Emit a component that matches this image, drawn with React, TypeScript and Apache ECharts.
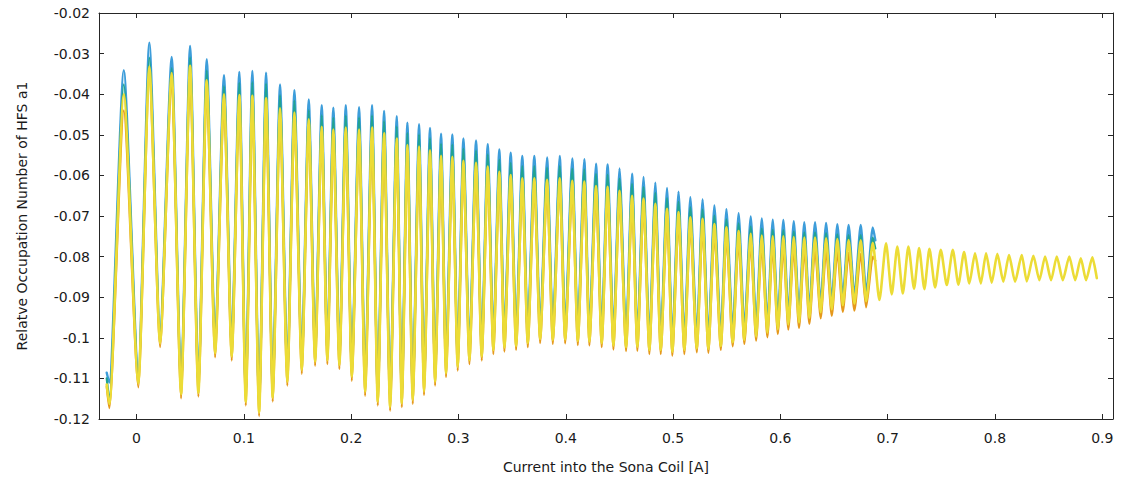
import React, { useEffect, useRef } from "react";
import * as echarts from "echarts";

// x positions of the oscillation extrema (A)
const troughX = [
  -0.0253, 0.0017, 0.0219, 0.0415, 0.0576, 0.0732, 0.0887, 0.1018, 0.1142, 0.1269,
  0.1405, 0.154, 0.1664, 0.1778, 0.189, 0.2006, 0.213, 0.2248, 0.2363, 0.2472,
  0.2574, 0.2679, 0.2782, 0.2884, 0.2993, 0.3102, 0.3217, 0.3325, 0.3428, 0.3537,
  0.3646, 0.3761, 0.3879, 0.3994, 0.4112, 0.422, 0.4335, 0.4444, 0.4562, 0.4667,
  0.4779, 0.4885, 0.4993, 0.5105, 0.5221, 0.5329, 0.5445, 0.5556, 0.5664, 0.5774,
  0.5879, 0.5976, 0.6074, 0.6174, 0.627, 0.6376, 0.6479, 0.6582, 0.669, 0.6799,
];
const peakX = [
  -0.0119, 0.0119, 0.0328, 0.0499, 0.0654, 0.0815, 0.0958, 0.1079, 0.1207, 0.1337,
  0.1471, 0.1605, 0.1726, 0.1834, 0.195, 0.2074, 0.2195, 0.2307, 0.2425, 0.2524,
  0.2633, 0.2735, 0.2838, 0.2943, 0.3046, 0.3164, 0.3273, 0.3381, 0.3487, 0.3595,
  0.3707, 0.3826, 0.3944, 0.4061, 0.4173, 0.4282, 0.439, 0.4501, 0.4618, 0.4725,
  0.4835, 0.4944, 0.5051, 0.5161, 0.5275, 0.5385, 0.5497, 0.5611, 0.5724, 0.5827,
  0.5929, 0.6028, 0.6125, 0.6223, 0.6323, 0.6426, 0.6531, 0.6636, 0.6749, 0.6861,
];
const startX = -0.0278;
const endX = 0.6885;

// blue trace
const bluePeaks = [
  -0.0341, -0.0273, -0.0308, -0.0281, -0.0314, -0.0353, -0.0345, -0.0343, -0.0347, -0.0376,
  -0.039, -0.0413, -0.0427, -0.0433, -0.0427, -0.0432, -0.0427, -0.0441, -0.0454, -0.047,
  -0.0474, -0.0483, -0.0497, -0.0499, -0.0509, -0.0514, -0.0523, -0.0536, -0.0544, -0.0552,
  -0.0552, -0.0556, -0.0552, -0.0558, -0.056, -0.0571, -0.0573, -0.0583, -0.0596, -0.0604,
  -0.0618, -0.0631, -0.064, -0.0654, -0.0659, -0.0674, -0.0683, -0.0693, -0.0701, -0.0706,
  -0.0709, -0.071, -0.0713, -0.0715, -0.0715, -0.0717, -0.072, -0.0722, -0.0722, -0.0728,
];
const blueTroughs = [
  -0.111, -0.1087, -0.0988, -0.1114, -0.111, -0.1013, -0.1021, -0.1132, -0.1158, -0.1122,
  -0.1083, -0.1054, -0.1034, -0.103, -0.1042, -0.1071, -0.1108, -0.1132, -0.1145, -0.1136,
  -0.1128, -0.1106, -0.1083, -0.1062, -0.1046, -0.103, -0.1021, -0.1005, -0.0999, -0.0995,
  -0.0988, -0.0978, -0.098, -0.0979, -0.0983, -0.0984, -0.0988, -0.0994, -0.0998, -0.0997,
  -0.1005, -0.1005, -0.1009, -0.1005, -0.1001, -0.1002, -0.0995, -0.0986, -0.098, -0.0972,
  -0.0964, -0.0956, -0.0945, -0.0941, -0.0931, -0.0917, -0.0911, -0.0901, -0.0898, -0.089,
];
const blueEnds = [-0.1086, -0.076];

// teal trace
const tealPeaks = [
  -0.0376, -0.031, -0.0336, -0.0309, -0.0341, -0.038, -0.0372, -0.037, -0.0374, -0.0402,
  -0.0416, -0.0439, -0.0452, -0.0458, -0.0453, -0.0457, -0.0452, -0.0466, -0.0479, -0.0495,
  -0.0499, -0.0508, -0.0522, -0.0524, -0.0534, -0.0539, -0.0548, -0.0561, -0.0569, -0.0577,
  -0.0577, -0.0581, -0.0577, -0.0583, -0.0585, -0.0596, -0.0598, -0.0608, -0.0621, -0.0629,
  -0.0643, -0.0656, -0.0665, -0.0679, -0.0684, -0.0699, -0.0708, -0.0718, -0.0726, -0.0731,
  -0.0734, -0.0735, -0.0738, -0.074, -0.074, -0.0742, -0.0745, -0.0747, -0.0747, -0.0753,
];
const tealTroughs = [
  -0.1151, -0.11, -0.1001, -0.1127, -0.1123, -0.1026, -0.1034, -0.1145, -0.1171, -0.1135,
  -0.1096, -0.1067, -0.1047, -0.1043, -0.1055, -0.1084, -0.1121, -0.1145, -0.1158, -0.1149,
  -0.1141, -0.1119, -0.1096, -0.1075, -0.1059, -0.1043, -0.1034, -0.1018, -0.1012, -0.1008,
  -0.1001, -0.0991, -0.0993, -0.0992, -0.0996, -0.0997, -0.1001, -0.1007, -0.1011, -0.101,
  -0.1018, -0.1018, -0.1022, -0.1018, -0.1014, -0.1015, -0.1008, -0.0999, -0.0993, -0.0985,
  -0.0977, -0.0969, -0.0958, -0.0954, -0.0944, -0.093, -0.0924, -0.0914, -0.0911, -0.0903,
];
const tealEnds = [-0.11, -0.078];

// orange trace
const orangePeaks = [
  -0.044, -0.0352, -0.0368, -0.035, -0.0385, -0.0418, -0.042, -0.0422, -0.0428, -0.0453,
  -0.0463, -0.048, -0.0498, -0.0505, -0.05, -0.0505, -0.05, -0.0514, -0.0527, -0.0543,
  -0.0547, -0.0556, -0.057, -0.0572, -0.0582, -0.0587, -0.0596, -0.0609, -0.0617, -0.0625,
  -0.0625, -0.0629, -0.0625, -0.0631, -0.0633, -0.0644, -0.0646, -0.0656, -0.0668, -0.0675,
  -0.0688, -0.0701, -0.071, -0.0723, -0.0728, -0.0742, -0.075, -0.076, -0.0767, -0.0772,
  -0.0775, -0.0776, -0.0779, -0.0781, -0.0782, -0.0785, -0.0788, -0.0791, -0.0793, -0.08,
];
const orangeTroughs = [
  -0.1173, -0.1122, -0.1023, -0.1149, -0.1145, -0.1048, -0.1056, -0.1167, -0.1193, -0.1157,
  -0.1118, -0.1089, -0.1069, -0.1065, -0.1077, -0.1106, -0.1143, -0.1167, -0.118, -0.1171,
  -0.1163, -0.1141, -0.1118, -0.1097, -0.1081, -0.1065, -0.1056, -0.104, -0.1034, -0.103,
  -0.1023, -0.1013, -0.1015, -0.1014, -0.1018, -0.1019, -0.1023, -0.1029, -0.1033, -0.1032,
  -0.104, -0.104, -0.1044, -0.104, -0.1036, -0.1037, -0.103, -0.1021, -0.1015, -0.1007,
  -0.0999, -0.0991, -0.098, -0.0976, -0.0966, -0.0952, -0.0946, -0.0936, -0.0933, -0.0925,
];
const orangeEnds = [-0.112, -0.081];

// yellow trace (the only one that continues past 0.69 A)
const yellowPeaks = [
  -0.04, -0.0332, -0.0348, -0.033, -0.0366, -0.04, -0.0402, -0.0404, -0.041, -0.0435,
  -0.0445, -0.0462, -0.048, -0.0487, -0.0482, -0.0487, -0.0482, -0.0496, -0.0509, -0.0525,
  -0.0529, -0.0538, -0.0552, -0.0554, -0.0564, -0.0569, -0.0578, -0.0591, -0.0599, -0.0607,
  -0.0607, -0.0611, -0.0607, -0.0613, -0.0615, -0.0626, -0.0628, -0.0638, -0.065, -0.0657,
  -0.067, -0.0682, -0.069, -0.0703, -0.0707, -0.072, -0.0728, -0.0737, -0.0744, -0.0748,
  -0.075, -0.075, -0.0752, -0.0753, -0.0753, -0.0755, -0.0757, -0.0759, -0.076, -0.0766,
];
const yellowTroughs = [
  -0.1163, -0.1112, -0.1013, -0.1139, -0.1135, -0.1038, -0.1046, -0.1157, -0.1183, -0.1147,
  -0.1108, -0.1079, -0.1059, -0.1055, -0.1067, -0.1096, -0.1133, -0.1157, -0.117, -0.1161,
  -0.1153, -0.1131, -0.1108, -0.1087, -0.1071, -0.1055, -0.1046, -0.103, -0.1024, -0.102,
  -0.1013, -0.1003, -0.1005, -0.1004, -0.1008, -0.1009, -0.1013, -0.1019, -0.1023, -0.1022,
  -0.103, -0.103, -0.1034, -0.103, -0.1026, -0.1027, -0.102, -0.1011, -0.1005, -0.0997,
  -0.0987, -0.0979, -0.0967, -0.0962, -0.0951, -0.0937, -0.093, -0.092, -0.0916, -0.091,
];
const yellowStart = -0.1115;
const yellowTailX = [
  0.6923, 0.6985, 0.7038, 0.709, 0.7141, 0.7193, 0.7246, 0.7293, 0.7342, 0.7389,
  0.7442, 0.7495, 0.7551, 0.7607, 0.7659, 0.7712, 0.7761, 0.7814, 0.7868, 0.7917,
  0.797, 0.8022, 0.8078, 0.8131, 0.8187, 0.825, 0.8296, 0.8358, 0.8414, 0.8467,
  0.8523, 0.8576, 0.8632, 0.8693, 0.8747, 0.88, 0.8849, 0.8908, 0.8949,
];
const yellowTailY = [
  -0.0907, -0.0767, -0.0893, -0.0775, -0.0891, -0.0775, -0.0879, -0.0779, -0.088, -0.0781,
  -0.0876, -0.0783, -0.087, -0.0783, -0.0869, -0.0789, -0.0866, -0.0792, -0.0866, -0.0792,
  -0.0864, -0.0793, -0.0862, -0.0796, -0.0862, -0.0796, -0.0861, -0.0798, -0.0858, -0.08,
  -0.0858, -0.08, -0.0858, -0.08, -0.0858, -0.0804, -0.0858, -0.0802, -0.0853,
];

const xTitle = "Current into the Sona Coil [A]";
const yTitle = "Relatve Occupation Number of HFS a1";

function buildLine(
  startY: number,
  troughs: number[],
  peaks: number[],
  endY: number | null,
  tailX?: number[],
  tailY?: number[]
): number[][] {
  const d: number[][] = [[startX, startY]];
  for (let i = 0; i < peakX.length; i++) {
    d.push([troughX[i], troughs[i]]);
    d.push([peakX[i], peaks[i]]);
  }
  if (endY !== null) d.push([endX, endY]);
  if (tailX && tailY) {
    for (let i = 0; i < tailX.length; i++) d.push([tailX[i], tailY[i]]);
  }
  return d;
}

const FONT = "DejaVu Sans";
const AXIS_COLOR = "#262626";
const TEXT_COLOR = "#1a1a1a";

function xLabel(v: number): string {
  const k = v * 10;
  if (Math.abs(k - Math.round(k)) > 1e-6) return "";
  return String(Math.round(k) / 10);
}

export default function App() {
  const ref = useRef<HTMLDivElement>(null);
  useEffect(() => {
    if (!ref.current) return;
    const chart = echarts.init(ref.current, null, { renderer: "svg" });
    const lineSeries = (name: string, color: string, data: number[][], width: number) => ({
      name,
      type: "line",
      data,
      showSymbol: false,
      symbol: "none",
      smooth: 0.22,
      smoothMonotone: "x",
      silent: true,
      lineStyle: { color, width, join: "round", cap: "round" },
      xAxisIndex: 0,
      yAxisIndex: 0,
    });
    const xBase = {
      type: "value",
      min: -0.035,
      max: 0.91,
      splitNumber: 10,
      splitLine: { show: false },
      axisLine: { show: true, onZero: false, lineStyle: { color: AXIS_COLOR, width: 1 } },
      axisTick: { show: true, inside: true, length: 5, lineStyle: { color: AXIS_COLOR } },
    };
    const yBase = {
      type: "value",
      min: -0.12,
      max: -0.02,
      interval: 0.01,
      splitLine: { show: false },
      axisLine: { show: true, onZero: false, lineStyle: { color: AXIS_COLOR, width: 1 } },
      axisTick: { show: true, inside: true, length: 5, lineStyle: { color: AXIS_COLOR } },
    };
    chart.setOption({
      animation: false,
      backgroundColor: "#ffffff",
      grid: { left: 99, right: 14, top: 13, bottom: 64, containLabel: false },
      xAxis: [
        {
          ...xBase,
          position: "bottom",
          name: xTitle,
          nameLocation: "middle",
          nameGap: 41,
          nameTextStyle: { fontFamily: FONT, fontSize: 14, color: TEXT_COLOR },
          axisLabel: {
            show: true,
            margin: 12,
            fontFamily: FONT,
            fontSize: 14,
            color: TEXT_COLOR,
            formatter: xLabel,
          },
        },
        { ...xBase, position: "top", axisLabel: { show: false } },
      ],
      yAxis: [
        {
          ...yBase,
          position: "left",
          name: yTitle,
          nameLocation: "middle",
          nameGap: 70,
          nameTextStyle: { fontFamily: FONT, fontSize: 14, color: TEXT_COLOR },
          axisLabel: { show: true, margin: 9, fontFamily: FONT, fontSize: 14, color: TEXT_COLOR },
        },
        { ...yBase, position: "right", axisLabel: { show: false } },
      ],
      series: [
        lineSeries("blue", "#3D9DDA", buildLine(blueEnds[0], blueTroughs, bluePeaks, blueEnds[1]), 2.4),
        lineSeries("teal", "#22A392", buildLine(tealEnds[0], tealTroughs, tealPeaks, tealEnds[1]), 2.2),
        lineSeries("orange", "#E5981C", buildLine(orangeEnds[0], orangeTroughs, orangePeaks, orangeEnds[1]), 2.2),
        lineSeries(
          "yellow",
          "#ECDC36",
          buildLine(yellowStart, yellowTroughs, yellowPeaks, null, yellowTailX, yellowTailY),
          2.6
        ),
      ],
    });
    return () => chart.dispose();
  }, []);
  return (
    <div
      ref={ref}
      style={{ position: "fixed", left: 0, top: 0, width: 1127, height: 483, background: "#fff" }}
    />
  );
}
